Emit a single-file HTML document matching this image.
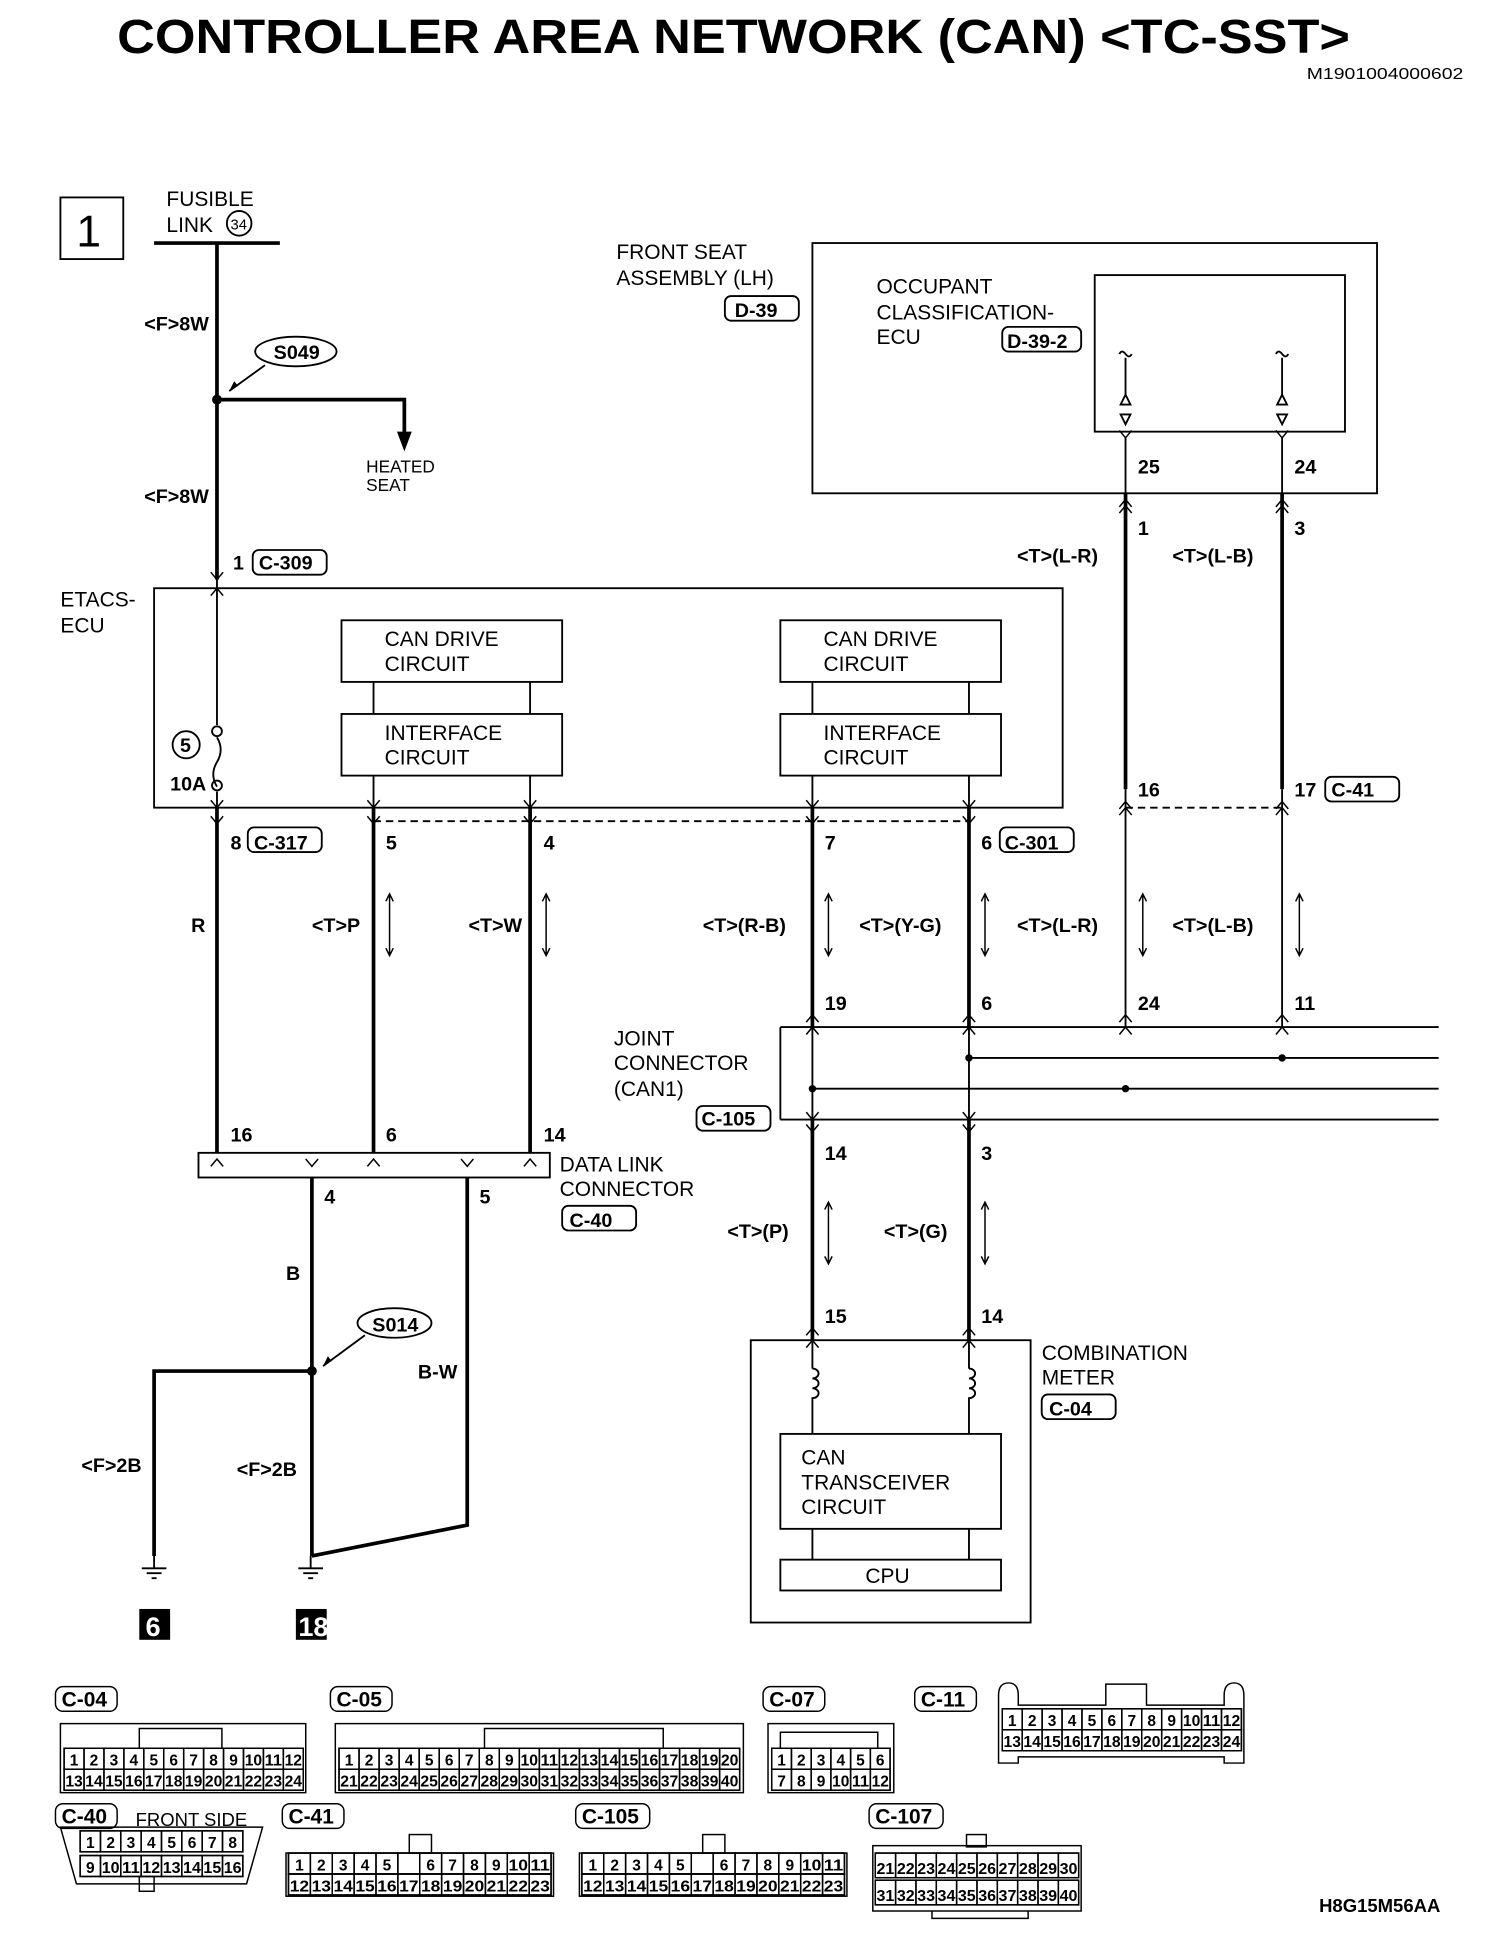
<!DOCTYPE html>
<html><head><meta charset="utf-8">
<style>
html,body{margin:0;padding:0;background:#fff;}
svg{display:block;}
text{font-family:"Liberation Sans",Arial,sans-serif;fill:#000;}
.t{font-size:17px;}
.b{font-size:16px;font-weight:bold;}
.s{font-size:11px;font-weight:bold;}
</style></head>
<body>
<svg id="d" width="1504" height="1942" viewBox="0 0 1220 1575" xmlns="http://www.w3.org/2000/svg" fill="none" stroke="#000">
<g stroke="none">
<text x="95" y="43" style="font-size:39px;font-weight:bold" textLength="1000" lengthAdjust="spacingAndGlyphs">CONTROLLER AREA NETWORK (CAN) &lt;TC-SST&gt;</text>
<text x="1060" y="64" style="font-size:13px" textLength="127" lengthAdjust="spacingAndGlyphs">M1901004000602</text>
<text x="62" y="200" style="font-size:36px">1</text>
<text class="t" x="135" y="167">FUSIBLE</text>
<text class="t" x="135" y="188">LINK</text>
<text x="187" y="186" style="font-size:12px">34</text>
<text class="b" x="117" y="268">&lt;F&gt;8W</text>
<text class="b" x="117" y="408">&lt;F&gt;8W</text>
<text class="b" x="222" y="291">S049</text>
<text x="297" y="383" style="font-size:14px">HEATED</text>
<text x="297" y="398" style="font-size:14px">SEAT</text>
<text class="b" x="189" y="462">1</text>
<text class="b" x="210" y="462">C-309</text>
<text class="t" x="49" y="492">ETACS-</text>
<text class="t" x="49" y="513">ECU</text>
<text class="t" x="312" y="524">CAN DRIVE</text><text class="t" x="312" y="544">CIRCUIT</text>
<text class="t" x="668" y="524">CAN DRIVE</text><text class="t" x="668" y="544">CIRCUIT</text>
<text class="t" x="312" y="600">INTERFACE</text><text class="t" x="312" y="620">CIRCUIT</text>
<text class="t" x="668" y="600">INTERFACE</text><text class="t" x="668" y="620">CIRCUIT</text>
<text class="b" x="146" y="610">5</text>
<text class="b" x="138" y="641">10A</text>
<text class="t" x="500" y="210">FRONT SEAT</text>
<text class="t" x="500" y="231">ASSEMBLY (LH)</text>
<text class="b" x="596" y="257">D-39</text>
<text class="t" x="711" y="238">OCCUPANT</text>
<text class="t" x="711" y="259">CLASSIFICATION-</text>
<text class="t" x="711" y="279">ECU</text>
<text class="b" x="817" y="282">D-39-2</text>
<text class="b" x="923" y="384">25</text><text class="b" x="1050" y="384">24</text>
<text class="b" x="923" y="434">1</text><text class="b" x="1050" y="434">3</text>
<text class="b" x="825" y="456">&lt;T&gt;(L-R)</text><text class="b" x="951" y="456">&lt;T&gt;(L-B)</text>
<text class="b" x="923" y="646">16</text><text class="b" x="1050" y="646">17</text><text class="b" x="1080" y="646">C-41</text>
<text class="b" x="187" y="689">8</text><text class="b" x="206" y="689">C-317</text>
<text class="b" x="313" y="689">5</text><text class="b" x="441" y="689">4</text>
<text class="b" x="669" y="689">7</text><text class="b" x="796" y="689">6</text><text class="b" x="815" y="689">C-301</text>
<text class="b" x="155" y="756">R</text>
<text class="b" x="253" y="756">&lt;T&gt;P</text>
<text class="b" x="380" y="756">&lt;T&gt;W</text>
<text class="b" x="570" y="756">&lt;T&gt;(R-B)</text>
<text class="b" x="697" y="756">&lt;T&gt;(Y-G)</text>
<text class="b" x="825" y="756">&lt;T&gt;(L-R)</text>
<text class="b" x="951" y="756">&lt;T&gt;(L-B)</text>
<text class="b" x="669" y="819">19</text><text class="b" x="796" y="819">6</text><text class="b" x="923" y="819">24</text><text class="b" x="1050" y="819">11</text>
<text class="t" x="498" y="848">JOINT</text><text class="t" x="498" y="868">CONNECTOR</text><text class="t" x="498" y="889">(CAN1)</text>
<text class="b" x="569" y="913">C-105</text>
<text class="b" x="187" y="926">16</text><text class="b" x="313" y="926">6</text><text class="b" x="441" y="926">14</text>
<text class="t" x="454" y="950">DATA LINK</text><text class="t" x="454" y="970">CONNECTOR</text>
<text class="b" x="462" y="995">C-40</text>
<text class="b" x="669" y="941">14</text><text class="b" x="796" y="941">3</text>
<text class="b" x="263" y="976">4</text><text class="b" x="389" y="976">5</text>
<text class="b" x="590" y="1004">&lt;T&gt;(P)</text><text class="b" x="717" y="1004">&lt;T&gt;(G)</text>
<text class="b" x="232" y="1038">B</text>
<text class="b" x="302" y="1080">S014</text>
<text class="b" x="339" y="1118">B-W</text>
<text class="b" x="669" y="1073">15</text><text class="b" x="796" y="1073">14</text>
<text class="t" x="845" y="1103">COMBINATION</text><text class="t" x="845" y="1123">METER</text>
<text class="b" x="851" y="1148">C-04</text>
<text class="t" x="650" y="1188">CAN</text><text class="t" x="650" y="1208">TRANSCEIVER</text><text class="t" x="650" y="1228">CIRCUIT</text>
<text class="t" x="702" y="1284">CPU</text>
<text class="b" x="66" y="1194">&lt;F&gt;2B</text><text class="b" x="192" y="1197">&lt;F&gt;2B</text>
<rect x="113" y="1305" width="25" height="25" fill="#000"/>
<rect x="240" y="1305" width="25" height="25" fill="#000"/>
<text x="118" y="1327" style="font-size:22px;font-weight:bold;fill:#fff">6</text>
<text x="242" y="1327" style="font-size:22px;font-weight:bold;fill:#fff">18</text>
<text x="110" y="1481" style="font-size:15px">FRONT SIDE</text>
<text x="1070" y="1551" style="font-size:15px;font-weight:bold">H8G15M56AA</text>
</g>
<g stroke-width="1.5">
<rect x="49" y="160" width="51" height="50"/>
<circle cx="194" cy="181" r="10"/>
<ellipse cx="240" cy="285" rx="33" ry="12"/>
<line x1="215" y1="296" x2="186" y2="317"/>
<rect x="205" y="446" width="60" height="20" rx="5"/>
<rect x="125" y="477" width="737" height="178"/>
<rect x="277" y="503" width="179" height="50"/><rect x="633" y="503" width="179" height="50"/>
<rect x="277" y="579" width="179" height="50"/><rect x="633" y="579" width="179" height="50"/>
<path d="M303 553V579M430 553V579M659 553V579M786 553V579M303 629V655M430 629V655M659 629V655M786 629V655"/>
<path d="M176 470V588M176 642V655M176 598q6 10 0 20q-6 10 0 20"/>
<circle cx="176" cy="593" r="4"/><circle cx="176" cy="637" r="4"/>
<circle cx="151" cy="604" r="11"/>
<rect x="659" y="197" width="458" height="203"/>
<rect x="888" y="223" width="203" height="127"/>
<rect x="588" y="240" width="60" height="20" rx="5"/>
<rect x="813" y="265" width="64" height="20" rx="5"/>
<path d="M913 290V320M1040 290V320M908 287q2-4 5 0q3 4 5 0M1035 287q2-4 5 0q3 4 5 0"/>
<path d="M913 320l-4 8h8zM913 344l-4-8h8zM1040 320l-4 8h8zM1040 344l-4-8h8z"/>
<path d="M913 355V400M1040 355V400M913 640V833M1040 640V833"/>
<rect x="1075" y="630" width="60" height="20" rx="5"/>
<rect x="201" y="671" width="60" height="20" rx="5"/>
<rect x="811" y="671" width="60" height="20" rx="5"/>
<path d="M303 666H786M913 655H1040" stroke-dasharray="6 4"/>
<path d="M633 833H1167M633 908H1167M633 833V908M786 858H1167M659 883H1167M659 833V908M786 833V908"/>
<rect x="565" y="897" width="60" height="20" rx="5"/>
<rect x="161" y="935" width="285" height="20"/>
<rect x="456" y="978" width="60" height="20" rx="5"/>
<ellipse cx="320" cy="1073" rx="30" ry="12"/>
<line x1="296" y1="1083" x2="262" y2="1108"/>
<rect x="609" y="1087" width="227" height="229"/>
<rect x="845" y="1131" width="60" height="20" rx="5"/>
<rect x="633" y="1163" width="179" height="77"/>
<rect x="633" y="1265" width="179" height="25"/>
<path d="M659 1087V1110M786 1087V1110M659 1140V1163M786 1140V1163M659 1240V1265M786 1240V1265"/>
<path d="M659 1110a5 4 0 1 1 0 8a5 4 0 1 1 0 8a5 4 0 1 1 0 8v6M786 1110a5 4 0 1 1 0 8a5 4 0 1 1 0 8a5 4 0 1 1 0 8v6"/>
<path d="M125 1262V1272M115 1272h20M119 1276h12M123 1280h4M252 1262V1272M242 1272h20M246 1276h12M250 1280h4"/>
</g>
<g stroke-width="3">
<path d="M125 197H227M176 197V470M176 324H328V352"/>
<path d="M176 655V935M303 655V935M430 655V935M659 655V833M786 655V833M913 400V640M1040 400V640M659 908V1087M786 908V1087"/>
<path d="M253 955V1262M379 955V1237L253 1262M253 1112H125V1262"/>
</g>
<g fill="#000" stroke="none">
<path d="M322 350h12l-6 16z"/>
<circle cx="176" cy="324" r="4"/><circle cx="253" cy="1112" r="4"/>
<circle cx="786" cy="858" r="3"/><circle cx="1040" cy="858" r="3"/><circle cx="659" cy="883" r="3"/><circle cx="913" cy="883" r="3"/>
<path d="M186 317l4-8 3 4z"/><path d="M262 1108l4-8 3 4z"/>
</g>
<g id="chev" stroke-width="1.2"></g>
<g id="conn" stroke-width="1.2"></g>
</svg>
<script>
var NS="http://www.w3.org/2000/svg";
function el(p,tag,a,txt){var e=document.createElementNS(NS,tag);for(var k in a)e.setAttribute(k,a[k]);if(txt!=null)e.textContent=txt;document.getElementById(p).appendChild(e);return e;}
var P="";
function dn(x,y){P+="M"+(x-5)+" "+(y-6)+"L"+x+" "+y+"L"+(x+5)+" "+(y-6);}
function up(x,y){P+="M"+(x-5)+" "+(y+6)+"L"+x+" "+y+"L"+(x+5)+" "+(y+6);}
[176,303,430,659,786].forEach(function(x){dn(x,655);dn(x,668);});
up(176,477);dn(176,470);
dn(913,355);dn(1040,355);up(913,405);up(1040,405);up(913,410);up(1040,410);
up(913,650);up(1040,650);up(913,655);up(1040,655);
[659,786,913,1040].forEach(function(x){up(x,823);up(x,833);});
[659,786].forEach(function(x){dn(x,908);dn(x,918);up(x,1077);up(x,1087);});
[176,303,430].forEach(function(x){up(x,940);});
[253,379].forEach(function(x){dn(x,946);});
el("chev","path",{d:P});
// twist arrows
[316,443,672,799,927,1054].forEach(function(x){el("chev","path",{d:"M"+x+" 725V775M"+(x-3)+" 731L"+x+" 725L"+(x+3)+" 731M"+(x-3)+" 769L"+x+" 775L"+(x+3)+" 769"});});
[672,799].forEach(function(x){el("chev","path",{d:"M"+x+" 975V1025M"+(x-3)+" 981L"+x+" 975L"+(x+3)+" 981M"+(x-3)+" 1019L"+x+" 1025L"+(x+3)+" 1019"});});
// bottom connectors
function lab(x,y,t){el("conn","rect",{x:x,y:y,width:t.length*10+10,height:20,rx:6});el("conn","text",{x:x+5,y:y+16,style:"font-size:17px;font-weight:bold;stroke:none"},t);}
lab(45,1368,"C-04");lab(268,1368,"C-05");lab(619,1368,"C-07");lab(742,1368,"C-11");
lab(45,1463,"C-40");lab(229,1463,"C-41");lab(467,1463,"C-105");lab(705,1463,"C-107");
function grid(x,y,w,h,n,start,skip){var cw=w/n;el("conn","rect",{x:x,y:y,width:w,height:h});
for(var i=0;i<n;i++){el("conn","rect",{x:x+i*cw,y:y,width:cw,height:h});
var num=start+i; if(skip!=null&&i==skip)continue; if(skip!=null&&i>skip)num=start+i-1;
el("conn","text",{x:x+i*cw+cw/2,y:y+h-3,"text-anchor":"middle",textLength:Math.min(cw-2,num>9?cw-2:7),lengthAdjust:"spacingAndGlyphs",style:"font-size:13px;font-weight:bold;stroke:none"},""+num);}}
function blk(x,y,w,h,n,r1){el("conn","rect",{x:x,y:y,width:w,height:h});}
// C-04
blk(49,1398,199,56);el("conn","path",{d:"M113 1418V1402H180V1418"});grid(52,1418,194,17,12,1);grid(52,1435,194,17,12,13);
// C-05
blk(272,1398,331,56);el("conn","path",{d:"M393 1418V1402H538V1418"});grid(275,1418,325,17,20,1);grid(275,1435,325,17,20,21);
// C-07
blk(623,1398,102,56);el("conn","path",{d:"M633 1418V1405H712V1418"});grid(626,1418,96,17,6,1);grid(626,1435,96,17,6,7);
// C-11
el("conn","path",{d:"M810 1430V1375q0-10 8-10q8 0 8 10V1383H897V1366H930V1383H993V1375q0-10 8-10q8 0 8 10V1430H993V1425H826V1430Z"});
grid(813,1386,194,17,12,1);grid(813,1403,194,17,12,13);
// C-40
el("conn","path",{d:"M49 1482H213L200 1528H62Z"});grid(65,1485,132,17,8,1);grid(65,1505,132,17,8,9);
el("conn","rect",{x:113,y:1522,width:12,height:12});
// C-41, C-105
[232,470].forEach(function(x){blk(x,1503,217,35);el("conn","rect",{x:x+100,y:1488,width:18,height:15});grid(x+2,1503,213,17,12,1,5);grid(x+2,1520,213,17,12,12);});
// C-107
blk(708,1497,169,53);el("conn","rect",{x:784,y:1488,width:16,height:10});el("conn","path",{d:"M756 1550V1556H834V1550"});
grid(710,1503,165,20,10,21);grid(710,1525,165,20,10,31);
</script>
</body></html>
